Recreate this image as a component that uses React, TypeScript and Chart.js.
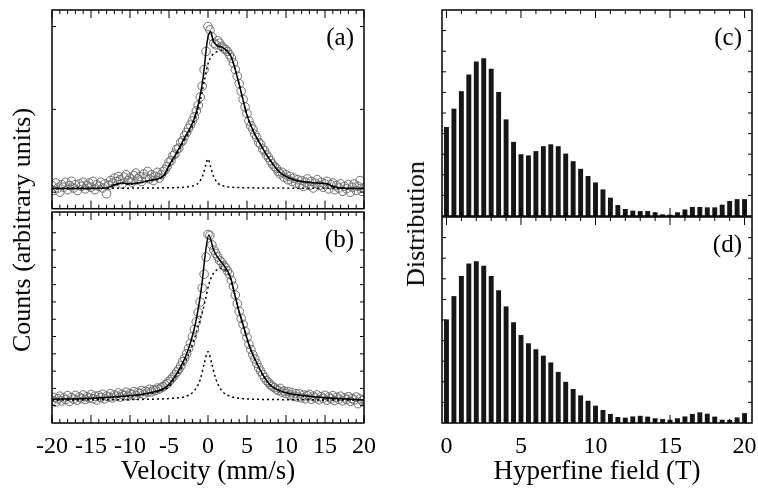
import React, { useEffect, useRef } from 'react';
import { Chart, registerables } from 'chart.js';

Chart.register(...registerables);

const SERIF = '"Liberation Serif", "Times New Roman", serif';

// ---------- Panel (a) ----------
const VEL_START = -20;
const VEL_STEP = 0.25;
const aCounts = [
  0.08, 0.02, 0.11, 0.05, 0.00, 0.09, 0.06, 0.12, 0.03, 0.08,
  0.13, 0.05, 0.09, 0.02, 0.10, 0.07, 0.12, 0.04, 0.08, 0.11,
  0.06, 0.13, 0.03, 0.09, 0.07, 0.12, 0.05, 0.10, -0.02, 0.08,
  0.14, 0.11, 0.17, 0.13, 0.19, 0.15, 0.10, 0.18, 0.21, 0.14,
  0.17, 0.12, 0.20, 0.23, 0.16, 0.19, 0.13, 0.22, 0.18, 0.25,
  0.16, 0.21, 0.14, 0.19, 0.24, 0.17, 0.21, 0.25, 0.27, 0.31,
  0.36, 0.38, 0.44, 0.46, 0.52, 0.53, 0.60, 0.62, 0.68, 0.72,
  0.77, 0.81, 0.86, 0.91, 0.98, 1.05, 1.15, 1.28, 1.48, 1.70,
  2.00, 1.96, 1.88, 1.80, 1.78, 1.83, 1.80, 1.76, 1.74, 1.72,
  1.70, 1.66, 1.62, 1.56, 1.48, 1.40, 1.31, 1.22, 1.12, 1.03,
  0.95, 0.86, 0.80, 0.76, 0.70, 0.66, 0.60, 0.58, 0.52, 0.50,
  0.45, 0.42, 0.38, 0.34, 0.31, 0.29, 0.25, 0.22, 0.24, 0.18,
  0.21, 0.15, 0.19, 0.13, 0.17, 0.11, 0.15, 0.09, 0.14, 0.07,
  0.12, 0.16, 0.08, 0.13, 0.05, 0.11, 0.15, 0.08, 0.12, 0.06,
  0.10, 0.13, 0.04, 0.09, 0.11, 0.03, 0.08, 0.05, 0.10, 0.01,
  0.07, 0.04, 0.09, 0.00, 0.06, 0.10, 0.02, 0.07, 0.14, 0.01,
  0.05,
];
const aFitX = [-20, -16, -13, -12, -11, -10, -9, -8, -7, -6.2, -5.6, -5, -4, -3.1, -1.8, -1.2, -0.6, -0.1, 0.3, 0.7, 1.2, 1.8, 2.4, 3.0, 3.5, 4.0, 4.4, 5.0, 5.8, 6.7, 8.0, 9.2, 10, 11, 12.7, 14, 15.3, 16.1, 17.8, 20];
const aFitY = [0.045, 0.045, 0.05, 0.09, 0.11, 0.10, 0.11, 0.13, 0.15, 0.17, 0.21, 0.32, 0.48, 0.64, 0.88, 1.08, 1.40, 1.82, 1.94, 1.82, 1.77, 1.75, 1.71, 1.63, 1.48, 1.30, 1.15, 0.93, 0.74, 0.58, 0.38, 0.24, 0.19, 0.15, 0.12, 0.11, 0.10, 0.065, 0.045, 0.045];
const aNarrowX = [-20, -8, -4, -3, -2, -1.5, -1, -0.6, -0.3, 0, 0.3, 0.6, 1, 1.5, 2, 3, 4, 8, 20];
const aNarrowY = [0.045, 0.05, 0.055, 0.06, 0.075, 0.09, 0.14, 0.22, 0.32, 0.40, 0.32, 0.22, 0.14, 0.09, 0.075, 0.06, 0.055, 0.05, 0.045];
const aBroadX = [-20, -16, -13, -12, -11, -10, -9, -8, -7, -6.2, -5.6, -5, -4, -3, -2, -1.5, -1, -0.5, 0, 0.5, 1, 1.5, 2, 2.6, 3.0, 3.5, 4.0, 4.4, 5.0, 5.8, 6.7, 8, 9.2, 10, 11, 12.7, 14, 15.3, 16.1, 17.8, 20];
const aBroadY = [0.045, 0.045, 0.05, 0.085, 0.105, 0.095, 0.105, 0.125, 0.145, 0.165, 0.20, 0.31, 0.46, 0.63, 0.80, 0.92, 1.10, 1.33, 1.55, 1.65, 1.69, 1.71, 1.72, 1.69, 1.62, 1.48, 1.30, 1.15, 0.93, 0.74, 0.58, 0.38, 0.24, 0.19, 0.15, 0.12, 0.11, 0.10, 0.065, 0.045, 0.045];

// ---------- Panel (b) ----------
const bCounts = [
  0.30, 0.48, 0.22, 0.40, 0.55, 0.28, 0.45, 0.35, 0.58, 0.25,
  0.47, 0.38, 0.60, 0.32, 0.50, 0.42, 0.62, 0.36, 0.52, 0.44,
  0.65, 0.40, 0.55, 0.33, 0.58, 0.47, 0.66, 0.40, 0.56, 0.50,
  0.70, 0.45, 0.62, 0.55, 0.74, 0.50, 0.66, 0.58, 0.78, 0.55,
  0.70, 0.64, 0.82, 0.60, 0.76, 0.70, 0.88, 0.66, 0.84, 0.78,
  0.95, 0.80, 0.92, 0.88, 1.02, 0.96, 1.05, 1.10, 1.20, 1.28,
  1.40, 1.52, 1.65, 1.80, 1.95, 2.10, 2.30, 2.55, 2.75, 3.00,
  3.30, 3.60, 4.00, 4.40, 4.85, 5.40, 6.00, 6.80, 7.60, 8.60,
  9.90, 9.85, 9.30, 9.00, 8.80, 8.60, 8.40, 8.30, 8.10, 8.00,
  7.80, 7.60, 7.25, 6.90, 6.40, 5.90, 5.45, 5.05, 4.70, 4.30,
  3.95, 3.55, 3.25, 2.95, 2.70, 2.45, 2.20, 2.00, 1.80, 1.62,
  1.45, 1.35, 1.20, 1.12, 1.05, 0.95, 0.88, 1.00, 0.78, 0.85,
  0.70, 0.82, 0.62, 0.76, 0.55, 0.70, 0.50, 0.68, 0.45, 0.62,
  0.40, 0.58, 0.66, 0.38, 0.55, 0.45, 0.62, 0.35, 0.52, 0.43,
  0.60, 0.32, 0.50, 0.40, 0.58, 0.30, 0.48, 0.38, 0.55, 0.28,
  0.45, 0.36, 0.52, 0.25, 0.42, 0.33, 0.50, 0.12, 0.40, 0.28,
  0.35,
];
const bFitX = [-20, -16, -11.7, -8.2, -6.1, -5.3, -4.4, -3.5, -2.7, -1.8, -1.2, -0.77, -0.34, 0.1, 0.72, 1.36, 2.22, 2.86, 3.5, 3.93, 4.57, 5.2, 6.07, 6.93, 7.8, 8.6, 10.3, 12.5, 14.6, 16.8, 20];
const bFitY = [0.37, 0.41, 0.52, 0.68, 0.91, 1.1, 1.58, 2.26, 3.03, 4.38, 5.73, 7.07, 8.81, 9.87, 9.0, 8.5, 8.0, 7.46, 6.3, 5.53, 4.57, 3.6, 2.64, 1.87, 1.29, 1.0, 0.72, 0.58, 0.48, 0.41, 0.33];
const bNarrowX = [-20, -8, -4, -3, -2, -1.4, -1, -0.5, 0, 0.5, 1, 1.5, 2, 3, 4, 8, 20];
const bNarrowY = [0.33, 0.37, 0.45, 0.52, 0.75, 1.1, 1.5, 2.4, 3.12, 2.4, 1.55, 1.05, 0.75, 0.52, 0.43, 0.36, 0.33];
const bBroadX = [-20, -16, -12, -8, -6, -5, -4.4, -3.5, -2.7, -1.8, -1.4, -0.8, -0.35, 0.1, 0.5, 1.0, 1.5, 2.2, 2.9, 3.5, 3.93, 4.57, 5.2, 6.07, 6.93, 7.8, 8.6, 10.3, 12.5, 14.6, 16.8, 20];
const bBroadY = [0.36, 0.40, 0.49, 0.66, 0.87, 1.08, 1.5, 2.1, 2.75, 3.8, 4.4, 5.3, 6.1, 7.0, 7.5, 7.8, 7.95, 7.85, 7.3, 6.3, 5.5, 4.55, 3.58, 2.62, 1.85, 1.27, 0.98, 0.70, 0.56, 0.47, 0.40, 0.33];

// ---------- Panels (c), (d) ----------
const fieldT = [0, 0.5, 1, 1.5, 2, 2.5, 3, 3.5, 4, 4.5, 5, 5.5, 6, 6.5, 7, 7.5, 8, 8.5, 9, 9.5, 10, 10.5, 11, 11.5, 12, 12.5, 13, 13.5, 14, 14.5, 15, 15.5, 16, 16.5, 17, 17.5, 18, 18.5, 19, 19.5, 20];
const cDist = [43.2, 52.1, 60.6, 68.7, 75.0, 76.6, 71.5, 60.2, 46.9, 36.0, 30.0, 29.4, 31.5, 33.9, 34.8, 33.9, 30.3, 26.6, 22.9, 19.4, 16.3, 12.9, 8.9, 5.3, 3.4, 2.6, 2.4, 2.4, 1.8, 0.8, 0.6, 1.8, 3.2, 4.4, 4.4, 4.2, 4.2, 5.5, 7.3, 8.2, 8.2];
const dDist = [50.3, 61.6, 71.3, 77.4, 78.5, 76.3, 71.3, 64.5, 56.6, 48.9, 42.7, 38.7, 35.8, 32.7, 29.4, 24.8, 20.0, 16.5, 13.4, 10.8, 8.4, 6.3, 4.4, 2.9, 2.6, 3.2, 3.5, 3.1, 2.3, 1.9, 1.6, 2.3, 3.2, 4.4, 5.2, 4.5, 3.1, 1.6, 1.5, 2.7, 4.8];

// ---------- ticks ----------
const velTickLabels = [-20, -15, -10, -5, 0, 5, 10, 15, 20];
const velMinorTicks = Array.from({ length: 41 }, (_, i) => -20 + i);
const fieldTickLabels = [0, 5, 10, 15, 20];
const fieldMinorTicks = Array.from({ length: 21 }, (_, i) => i);
const aYTicks = [0, 1, 2];
const bYTicks = [0, 1, 2, 3, 4, 5, 6, 7, 8, 9, 10];
const distYTicks = [10, 20, 30, 40, 50, 60, 70, 80, 90];

function pts(xs: number[], ys: number[]) {
  return xs.map((x, i) => ({ x, y: ys[i] }));
}
function velPts(ys: number[]) {
  return ys.map((y, i) => ({ x: VEL_START + i * VEL_STEP, y }));
}

type FrameCfg = {
  xTicks: number[];
  xMajor: number[];
  yTicks: number[];
  label: string;
};

function framePlugin(cfg: FrameCfg) {
  return {
    id: 'frame',
    afterDatasetsDraw(chart: any) {
      const { ctx, chartArea } = chart;
      const { left, right, top, bottom } = chartArea;
      const xs = chart.scales.x;
      const ys = chart.scales.y;
      ctx.save();
      ctx.strokeStyle = '#000';
      ctx.lineWidth = 1;
      ctx.beginPath();
      for (const v of cfg.xTicks) {
        const px = xs.getPixelForValue(v);
        const len = cfg.xMajor.includes(v) ? 8 : 4;
        ctx.moveTo(px, bottom);
        ctx.lineTo(px, bottom - len);
        ctx.moveTo(px, top);
        ctx.lineTo(px, top + len);
      }
      for (const v of cfg.yTicks) {
        const py = ys.getPixelForValue(v);
        ctx.moveTo(left, py);
        ctx.lineTo(left + 4, py);
        ctx.moveTo(right, py);
        ctx.lineTo(right - 4, py);
      }
      ctx.stroke();
      ctx.lineWidth = 1.5;
      ctx.strokeRect(left, top, right - left, bottom - top);
      ctx.fillStyle = '#000';
      ctx.font = '25px ' + SERIF;
      ctx.textAlign = 'right';
      ctx.textBaseline = 'alphabetic';
      ctx.fillText(cfg.label, right - 10, top + 35);
      ctx.restore();
    },
  };
}

const baseOptions = {
  animation: false as const,
  responsive: false,
  events: [] as any[],
  plugins: { legend: { display: false }, tooltip: { enabled: false } },
};

function bottomAxis(min: number, max: number, labels: number[], title: string) {
  return {
    type: 'linear' as const,
    min,
    max,
    offset: false,
    grid: { display: false, drawTicks: false },
    border: { display: false },
    afterBuildTicks: (scale: any) => {
      scale.ticks = labels.map((v) => ({ value: v }));
    },
    afterFit: (scale: any) => {
      scale.height = 72;
      scale.paddingLeft = 0;
      scale.paddingRight = 0;
    },
    ticks: {
      autoSkip: false,
      maxRotation: 0,
      padding: 9,
      color: '#000',
      font: { family: SERIF, size: 24 },
    },
    title: {
      display: true,
      text: title,
      color: '#000',
      padding: { top: 0, bottom: 7 },
      font: { family: SERIF, size: 27 },
    },
  };
}

function spectrumDatasets(countsY: number[], fx: number[], fy: number[], nx: number[], ny: number[], bx: number[], by: number[]) {
  const line = {
    borderColor: '#000',
    borderWidth: 1.5,
    pointRadius: 0,
    fill: false,
    cubicInterpolationMode: 'monotone' as const,
  };
  return [
    { ...line, data: pts(fx, fy), order: 1 },
    { ...line, data: pts(nx, ny), borderDash: [2, 3], order: 2 },
    { ...line, data: pts(bx, by), borderDash: [2, 3], order: 2 },
    {
      data: velPts(countsY),
      showLine: false,
      pointRadius: 4.3,
      pointBorderWidth: 1,
      pointBorderColor: '#6e6e6e',
      pointBackgroundColor: 'rgba(0,0,0,0)',
      order: 3,
    },
  ];
}

function makeA() {
  return {
    type: 'line',
    data: { datasets: spectrumDatasets(aCounts, aFitX, aFitY, aNarrowX, aNarrowY, aBroadX, aBroadY) },
    options: {
      ...baseOptions,
      layout: { padding: { left: 52, right: 16, top: 10, bottom: 2 } },
      scales: {
        x: { type: 'linear', min: -20, max: 20, display: false },
        y: { type: 'linear', min: -0.2, max: 2.2, display: false },
      },
    },
    plugins: [framePlugin({ xTicks: velMinorTicks, xMajor: velTickLabels, yTicks: aYTicks, label: '(a)' })],
  };
}

function makeB() {
  return {
    type: 'line',
    data: { datasets: spectrumDatasets(bCounts, bFitX, bFitY, bNarrowX, bNarrowY, bBroadX, bBroadY) },
    options: {
      ...baseOptions,
      layout: { padding: { left: 52, right: 16, top: 12, bottom: 0 } },
      scales: {
        x: bottomAxis(-20, 20, velTickLabels, 'Velocity (mm/s)'),
        y: { type: 'linear', min: -1, max: 11.2, display: false },
      },
    },
    plugins: [framePlugin({ xTicks: velMinorTicks, xMajor: velTickLabels, yTicks: bYTicks, label: '(b)' })],
  };
}

function barDataset(values: number[]) {
  return {
    data: pts(fieldT, values),
    backgroundColor: '#161616',
    borderWidth: 0,
    barPercentage: 0.66,
    categoryPercentage: 1,
  };
}

function makeC() {
  return {
    type: 'bar',
    data: { datasets: [barDataset(cDist)] },
    options: {
      ...baseOptions,
      layout: { padding: { left: 52, right: 6, top: 10, bottom: 2 } },
      scales: {
        x: { type: 'linear', min: -0.3, max: 20.5, offset: false, display: false },
        y: { type: 'linear', min: 0, max: 100, display: false },
      },
    },
    plugins: [framePlugin({ xTicks: fieldMinorTicks, xMajor: fieldTickLabels, yTicks: distYTicks, label: '(c)' })],
  };
}

function makeD() {
  return {
    type: 'bar',
    data: { datasets: [barDataset(dDist)] },
    options: {
      ...baseOptions,
      layout: { padding: { left: 52, right: 6, top: 17, bottom: 0 } },
      scales: {
        x: bottomAxis(-0.3, 20.5, fieldTickLabels, 'Hyperfine field (T)'),
        y: { type: 'linear', min: 0, max: 100, display: false },
      },
    },
    plugins: [framePlugin({ xTicks: fieldMinorTicks, xMajor: fieldTickLabels, yTicks: distYTicks, label: '(d)' })],
  };
}

function ChartBox(props: { left: number; top: number; width: number; height: number; make: () => any }) {
  const ref = useRef<HTMLCanvasElement>(null);
  useEffect(() => {
    const chart = new Chart(ref.current as HTMLCanvasElement, props.make());
    return () => chart.destroy();
  }, []);
  return (
    <canvas
      ref={ref}
      width={props.width}
      height={props.height}
      style={{ position: 'absolute', left: props.left, top: props.top, width: props.width, height: props.height }}
    />
  );
}

const yTitleStyle: React.CSSProperties = {
  position: 'absolute',
  transform: 'translate(-50%, -50%) rotate(-90deg)',
  whiteSpace: 'nowrap',
  fontFamily: SERIF,
  fontSize: 26,
  lineHeight: 1,
  color: '#000',
};

export default function App() {
  return (
    <div style={{ position: 'absolute', left: 0, top: 0, width: 758, height: 495, background: '#fff', overflow: 'hidden' }}>
      <ChartBox left={0} top={0} width={380} height={214} make={makeA} />
      <ChartBox left={0} top={200} width={380} height={295} make={makeB} />
      <ChartBox left={390} top={0} width={368} height={218} make={makeC} />
      <ChartBox left={390} top={200} width={368} height={295} make={makeD} />
      <div style={{ ...yTitleStyle, left: 22, top: 230 }}>Counts (arbitrary units)</div>
      <div style={{ ...yTitleStyle, left: 416, top: 224 }}>Distribution</div>
    </div>
  );
}
